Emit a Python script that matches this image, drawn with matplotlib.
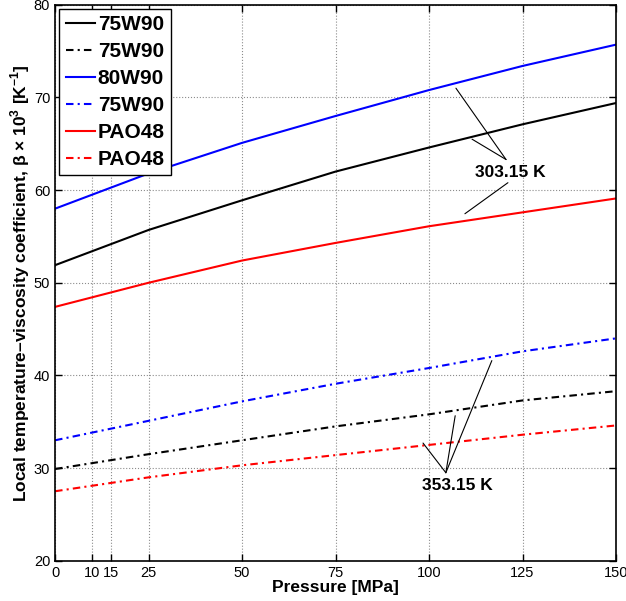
import matplotlib
matplotlib.use("Agg")
import matplotlib.pyplot as plt

plt.rcParams['font.family'] = ['Liberation Sans', 'DejaVu Sans']
plt.rcParams['mathtext.fontset'] = 'custom'
plt.rcParams['mathtext.rm'] = 'Liberation Sans:bold'
plt.rcParams['mathtext.bf'] = 'Liberation Sans:bold'

# pressure [MPa] and beta*1e3 [1/K]
pressure = [0, 25, 50, 75, 100, 125, 150]
w75_303 = [51.9, 55.7, 58.9, 62.0, 64.6, 67.1, 69.4]
w75_353 = [29.9, 31.5, 33.0, 34.5, 35.8, 37.3, 38.3]
w80_303 = [58.0, 61.8, 65.1, 68.0, 70.8, 73.4, 75.7]
w80_353 = [33.0, 35.1, 37.2, 39.1, 40.8, 42.6, 44.0]
pao_303 = [47.4, 50.0, 52.4, 54.3, 56.1, 57.6, 59.1]
pao_353 = [27.5, 29.0, 30.3, 31.4, 32.5, 33.6, 34.6]

labels = ['75W90', '75W90', '80W90', '75W90', 'PAO48', 'PAO48']
xticks = [0, 10, 15, 25, 50, 75, 100, 125, 150]
yticks = [20, 30, 40, 50, 60, 70, 80]

# leader lines for the temperature labels (apex, target)
leaders_303 = [((120.6, 63.3), (107.2, 71.0)),
               ((120.6, 63.3), (111.5, 65.5)),
               ((121.1, 60.8), (109.6, 57.45))]
leaders_353 = [((104.5, 29.5), (116.8, 41.6)),
               ((104.5, 29.5), (107.0, 35.65)),
               ((104.5, 29.5), (98.4, 32.7))]

dashdot = (0, (3.6, 2.0, 1.0, 2.0))

fig = plt.figure(figsize=(6.26, 6.01), dpi=100)
ax = fig.add_axes([0.088, 0.067, 0.896, 0.925])

series = [(w75_303, 'k', '-'), (w75_353, 'k', dashdot),
          (w80_303, 'b', '-'), (w80_353, 'b', dashdot),
          (pao_303, 'r', '-'), (pao_353, 'r', dashdot)]
for (vals, col, ls), lab in zip(series, labels):
    ax.plot(pressure, vals, color=col, linestyle=ls, lw=1.5, label=lab)

for a, b in leaders_303 + leaders_353:
    ax.annotate('', xy=b, xytext=a,
                arrowprops=dict(arrowstyle='-', lw=0.8, color='k', shrinkA=0, shrinkB=0))
ax.text(121.7, 61.9, '303.15 K', ha='center', va='center', fontsize=12.5, fontweight='bold')
ax.text(107.5, 28.1, '353.15 K', ha='center', va='center', fontsize=12.5, fontweight='bold')

ax.set_xlim(0, 150)
ax.set_ylim(20, 80)
ax.set_xticks(xticks)
ax.set_yticks(yticks)
ax.tick_params(direction='in', top=True, right=True, length=5, labelsize=10.5, width=1)
ax.grid(True, linestyle=':', color='0.55', lw=0.8)
for sp in ax.spines.values():
    sp.set_linewidth(1.2)

ax.set_xlabel('Pressure [MPa]', fontsize=12.5, fontweight='bold', labelpad=0)
ax.set_ylabel('Local temperature\u2013viscosity coefficient, \u03b2 \u00d7 10$^3$ [K$^{-1}$]',
              fontsize=12.5, fontweight='bold', labelpad=1)

leg = ax.legend(loc='upper left', prop={'weight': 'bold', 'size': 15},
                handlelength=1.4, handletextpad=0.15, labelspacing=0.38,
                borderaxespad=0.2, borderpad=0.3, fancybox=False, framealpha=1)
leg.get_frame().set_edgecolor('k')
leg.get_frame().set_linewidth(1.0)

fig.savefig('out.png', dpi=100)
